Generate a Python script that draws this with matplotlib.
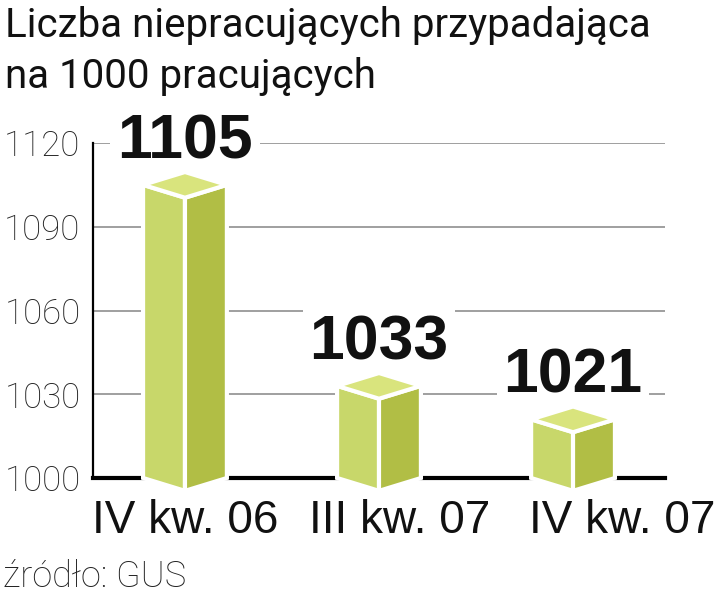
import matplotlib
matplotlib.use('Agg')
import matplotlib.pyplot as plt
from matplotlib.patches import Polygon

# dane
categories = ['IV kw. 06', 'III kw. 07', 'IV kw. 07']
values = [1105, 1033, 1021]
yticks = [1000, 1030, 1060, 1090, 1120]

title_lines = ['Liczba niepracujących przypadająca', 'na 1000 pracujących']
source = 'źródło: GUS'

front_col = '#c8d76a'
side_col = '#b1be45'
top_col = '#d9e47d'

fig = plt.figure(figsize=(7.2, 6.01), dpi=100)
ax = fig.add_axes([93 / 720, 1 - 478 / 601, 572 / 720, 335 / 601])

ax.set_xlim(-0.474, 2.474)
ax.set_ylim(1000, 1120)

for y in yticks[1:]:
    ax.axhline(y, color='#8f8f8f', lw=1.2, zorder=1)

for s in ['top', 'right']:
    ax.spines[s].set_visible(False)
ax.spines['left'].set_linewidth(1.6)
ax.spines['bottom'].set_linewidth(3)
ax.spines['left'].set_zorder(1.5)
ax.spines['bottom'].set_zorder(1.5)

ax.set_yticks(yticks)
ax.set_yticklabels([str(t) for t in yticks], fontsize=25, family='Roboto',
                   fontweight='light', color='#222222')
ax.tick_params(axis='y', length=0, pad=9)
ax.set_xticks([])

w = 0.216
d = 4.6
base = 1000
for i, v in enumerate(values):
    c = i
    front = [(c - w, base), (c, base - d), (c, v - d), (c - w, v)]
    side = [(c, base - d), (c + w, base), (c + w, v), (c, v - d)]
    top = [(c - w, v), (c, v - d), (c + w, v), (c, v + d)]
    for pts, col in [(front, front_col), (side, side_col), (top, top_col)]:
        ax.add_patch(Polygon(pts, closed=True, facecolor=col, edgecolor='white',
                             lw=3, joinstyle='miter', clip_on=False, zorder=3))
    ax.annotate(str(v), xy=(c, v + d), xytext=(0, 10), textcoords='offset points',
                ha='center', va='baseline', fontsize=45, fontweight='bold',
                family='Liberation Sans', color='#111111', zorder=2,
                bbox=dict(facecolor='white', edgecolor='none', pad=5),
                annotation_clip=False)

# polozenie podpisow kategorii (w jednostkach osi x)
label_x = [0, 1.105, 2.255]
for lx, lab in zip(label_x, categories):
    ax.text(lx, -55 / 335, lab, transform=ax.get_xaxis_transform(), ha='center',
            va='baseline', fontsize=33, family='Liberation Sans', color='#111111')

fig.text(5 / 720, 1 - 37 / 601, title_lines[0], fontsize=29, family='Roboto',
         color='#111111', va='baseline')
fig.text(5 / 720, 1 - 88 / 601, title_lines[1], fontsize=29, family='Roboto',
         color='#111111', va='baseline')
fig.text(3 / 720, 1 - 587 / 601, source, fontsize=26, family='Roboto',
         fontweight='light', color='#222222', va='baseline')

fig.savefig('out.png', dpi=100)
